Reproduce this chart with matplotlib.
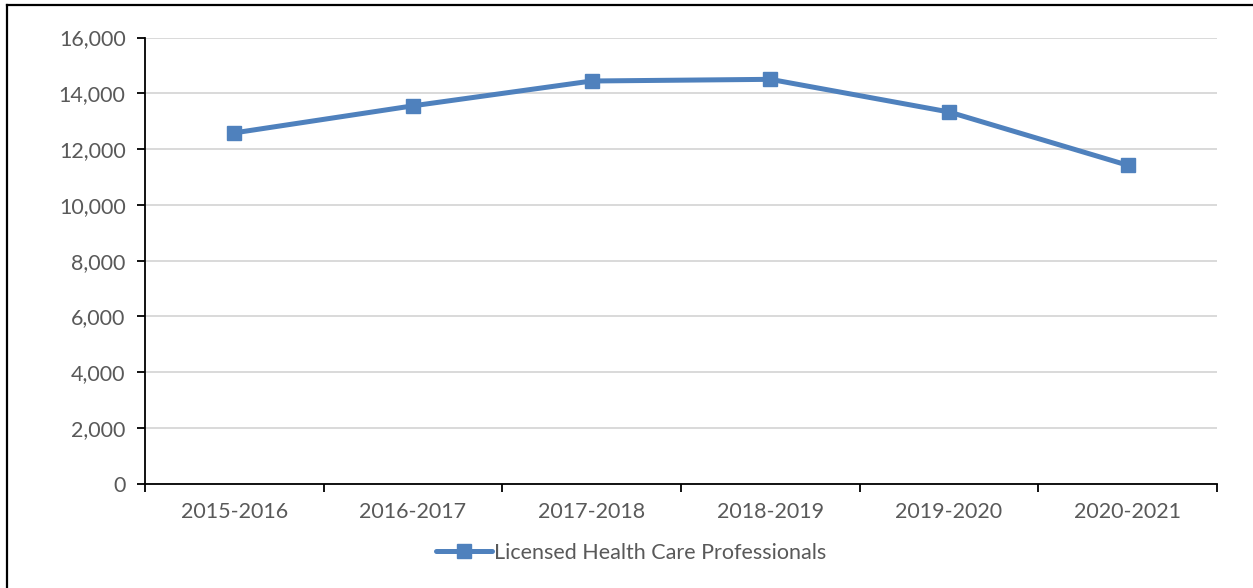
import matplotlib
matplotlib.use("Agg")
import matplotlib.pyplot as plt
from matplotlib.lines import Line2D
from matplotlib.ticker import FuncFormatter, FixedLocator

categories = ["2015-2016", "2016-2017", "2017-2018", "2018-2019", "2019-2020", "2020-2021"]
values = [12580, 13550, 14440, 14500, 13330, 11420]
series_name = "Licensed Health Care Professionals"
y_ticks = [0, 2000, 4000, 6000, 8000, 10000, 12000, 14000, 16000]

plt.rcParams['font.family'] = ['Lato', 'DejaVu Sans']
W, H = 1253, 588
fig = plt.figure(figsize=(W / 100, H / 100), dpi=100)
ax = fig.add_axes([145 / W, 1 - 483.7 / H, (1217 - 145) / W, (483.7 - 37.5) / H])

color = "#4F81BD"
fs = 15.5
x = list(range(len(categories)))
line, = ax.plot(x, values, color=color, lw=3.6, marker='s', markersize=10.5,
                solid_joinstyle='round', solid_capstyle='round', zorder=3)

ax.set_xlim(-0.5, len(categories) - 0.5)
ax.set_ylim(0, 16000)
ax.set_yticks(y_ticks)
ax.yaxis.set_major_formatter(FuncFormatter(lambda v, p: f"{int(v):,}"))
ax.set_xticks(x)
ax.set_xticklabels(categories)
ax.xaxis.set_minor_locator(FixedLocator([i - 0.5 for i in range(len(categories) + 1)]))

ax.grid(axis='y', color='#D9D9D9', lw=1.4, zorder=0)
ax.set_axisbelow(True)
for s in ['top', 'right']:
    ax.spines[s].set_visible(False)
for s in ['left', 'bottom']:
    ax.spines[s].set_color('black')
    ax.spines[s].set_linewidth(1.3)

ax.tick_params(axis='y', direction='out', length=6, width=1.3, color='black',
               labelsize=fs, labelcolor='#595959', pad=8)
ax.tick_params(axis='x', which='major', length=0, labelsize=fs, labelcolor='#595959', pad=13)
ax.tick_params(axis='x', which='minor', direction='out', length=6, width=1.3, color='black')

leg = fig.legend([line], [series_name], loc='center', bbox_to_anchor=(631 / W, 1 - 553 / H),
                 frameon=False, fontsize=fs, handlelength=2.6, handletextpad=0.1,
                 labelcolor='#595959')

# figure border (left and top)
fig.add_artist(Line2D([7 / W, 7 / W], [0, 1 - 5 / H], transform=fig.transFigure, color='black', lw=1.6))
fig.add_artist(Line2D([7 / W, 1], [1 - 5 / H, 1 - 5 / H], transform=fig.transFigure, color='black', lw=1.6))

fig.savefig("out.png", dpi=100)
